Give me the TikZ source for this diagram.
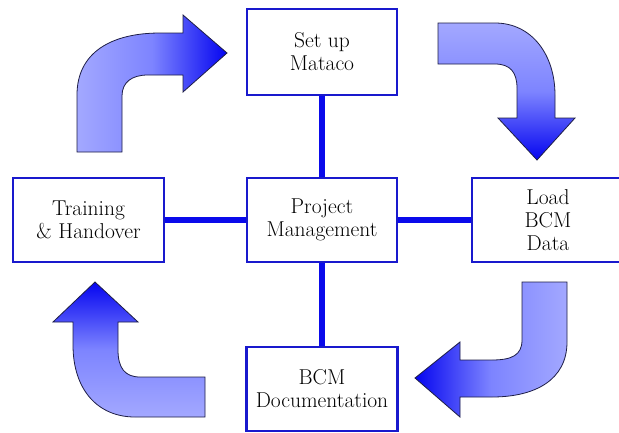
\documentclass[tikz,border=0pt]{standalone}
\usetikzlibrary{calc}
\definecolor{boxblue}{RGB}{25,25,205}
\definecolor{linkblue}{RGB}{10,10,235}
\definecolor{arrlight}{RGB}{163,168,255}
\definecolor{arrmid}{RGB}{125,132,255}
\definecolor{arrdark}{RGB}{5,5,240}
\definecolor{arredge}{RGB}{30,30,70}
\tikzset{
  stagebox/.style={draw=boxblue, line width=2.6pt, fill=white, rectangle,
    align=center, inner sep=2pt, text=black,
    font=\fontsize{21.5}{23}\selectfont},
  link/.style={draw=linkblue, line width=5.5pt},
  bigarrow/.style={draw=arredge, line width=0.8pt, line join=miter}
}
\begin{document}
\begin{tikzpicture}[x=1pt,y=-1pt]
\clip (0,0) rectangle (619,432);
\useasboundingbox (0,0) rectangle (619,432);
\fill[white] (0,0) rectangle (619,432);

% boxes
\node[stagebox, minimum width=150pt, minimum height=86pt] (setup) at (322,52) {Set up\\Mataco};
\node[stagebox, minimum width=150pt, minimum height=84pt] (pm) at (322,220) {Project\\Management};
\node[stagebox, minimum width=151pt, minimum height=84pt] (train) at (88.5,220) {Training\\\& Handover};
\node[stagebox, minimum width=152pt, minimum height=84pt] (load) at (548,220) {Load\\BCM\\Data};
\node[stagebox, minimum width=151pt, minimum height=84pt] (doc) at (322,389) {BCM\\Documentation};

% connectors
\draw[link] (pm.north) -- (setup.south);
\draw[link] (pm.south) -- (doc.north);
\draw[link] (pm.west) -- (train.east);
\draw[link] (pm.east) -- (load.west);

% top-left arrow (up then right)
\path[bigarrow, left color=arrlight, right color=arrdark, middle color=arrmid]
  (77,152) -- (77,95) .. controls (77,52) and (112,33) .. (160,33)
  -- (183,33) -- (183,15) -- (227,53) -- (183,92) -- (183,75)
  -- (148,75) .. controls (132,75) and (122,82) .. (122,96)
  -- (122,152) -- cycle;

% top-right arrow (right then down)
\path[bigarrow, top color=arrlight, bottom color=arrdark, middle color=arrmid]
  (438,23) -- (495,23) .. controls (532,23) and (555,55) .. (555,95)
  -- (555,118) -- (575,118) -- (537,160) -- (498,118) -- (517,118)
  -- (517,88) .. controls (517,72) and (510,64) .. (495,64)
  -- (438,64) -- cycle;

% bottom-right arrow (down then left)
\path[bigarrow, right color=arrlight, left color=arrdark, middle color=arrmid]
  (522,282) -- (567,282) -- (567,342) .. controls (567,380) and (535,397) .. (492,397)
  -- (460,397) -- (460,417) -- (415,378) -- (460,342) -- (460,360)
  -- (492,360) .. controls (512,360) and (522,355) .. (522,340) -- cycle;

% bottom-left arrow (left then up)
\path[bigarrow, bottom color=arrlight, top color=arrdark, middle color=arrmid]
  (95,282) -- (138,322) -- (118,322) -- (118,350)
  .. controls (118,368) and (125,377) .. (140,377)
  -- (205,377) -- (205,417) -- (135,417)
  .. controls (98,417) and (73,390) .. (73,345)
  -- (73,322) -- (53,322) -- cycle;
\end{tikzpicture}
\end{document}
